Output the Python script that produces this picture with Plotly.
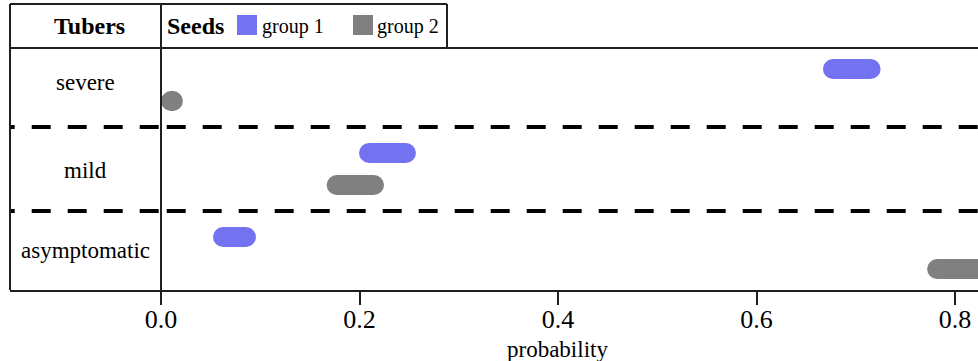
import plotly.graph_objects as go

# ---- data ----
categories = ["severe", "mild", "asymptomatic"]
group_names = ["group 1", "group 2"]
group1_low = [0.677, 0.2096, 0.0625]
group1_high = [0.715, 0.2468, 0.0856]
group2_low = [0.010, 0.177, 0.782]
group2_high = [0.012, 0.2146, 0.860]
tick_vals = [0.0, 0.2, 0.4, 0.6, 0.8]
tick_text = ["0.0", "0.2", "0.4", "0.6", "0.8"]

# ---- layout constants (pixels) ----
W, H = 978, 361
PL, PR = 10, 978          # plot area left/right
PT, PB = 48, 290          # plot area top/bottom
X0PX = 161                # pixel of x = 0
PX_PER_UNIT = 992.5
HEADER_TOP = 4
SEEDS_RIGHT = 447
LABEL_PX = {"severe": 82, "mild": 170, "asymptomatic": 250}

BLUE = "#7373F2"
GRAY = "#808080"
LINE = "#1f1f1f"
FONT = "Liberation Serif"

xr = [(PL - X0PX) / PX_PER_UNIT, (PR - X0PX) / PX_PER_UNIT]
row_pos = {c: 3 - i for i, c in enumerate(categories)}
pad = ((PB - PT) / 84 - 2) / 2
yr = [1 - pad, 3 + pad]
OFF = 0.19


def xp(px):
    return (px - PL) / (PR - PL)


def yp(py):
    return (PB - py) / (PB - PT)


fig = go.Figure()

for name, lows, highs, color, off in [
    (group_names[0], group1_low, group1_high, BLUE, OFF),
    (group_names[1], group2_low, group2_high, GRAY, -OFF),
]:
    for cat, lo, hi in zip(categories, lows, highs):
        y = row_pos[cat] + off
        fig.add_trace(go.Scatter(
            x=[lo, hi], y=[y, y], mode="lines+markers",
            line=dict(color=color, width=20),
            marker=dict(color=color, size=20, symbol="circle", line=dict(width=0)),
            name=name, showlegend=False, hoverinfo="skip",
        ))

shapes = []
# dashed separators between rows
for yv in [1.5, 2.5]:
    shapes.append(dict(type="line", xref="paper", yref="y", x0=xp(PL), x1=xp(X0PX), y0=yv, y1=yv,
                       line=dict(color="black", width=4, dash="4.7px,17px,14.3px,0px")))
    shapes.append(dict(type="line", xref="paper", yref="y", x0=xp(X0PX), x1=xp(PR), y0=yv, y1=yv,
                       line=dict(color="black", width=4, dash="0px,5.7px,19px,11.3px")))
# frame lines
frame = [
    (PL, HEADER_TOP, PL, PB),
    (PL, HEADER_TOP, SEEDS_RIGHT, HEADER_TOP),
    (SEEDS_RIGHT, HEADER_TOP, SEEDS_RIGHT, PT),
    (PL, PT, PR, PT),
    (X0PX, HEADER_TOP, X0PX, PB),
]
for x0, y0, x1, y1 in frame:
    shapes.append(dict(type="line", xref="paper", yref="paper", x0=xp(x0), x1=xp(x1),
                       y0=yp(y0), y1=yp(y1), line=dict(color=LINE, width=2)))
# legend swatches
for x0, color in [(237, BLUE), (353, GRAY)]:
    shapes.append(dict(type="rect", xref="paper", yref="paper", x0=xp(x0), x1=xp(x0 + 20),
                       y0=yp(35), y1=yp(15), fillcolor=color, line=dict(width=0)))

annotations = []
for cat in categories:
    annotations.append(dict(x=xp((PL + X0PX) / 2), y=yp(LABEL_PX[cat]), xref="paper", yref="paper",
                            text=cat, showarrow=False, xanchor="center", yanchor="middle",
                            font=dict(family=FONT, size=23, color="black")))
annotations += [
    dict(x=xp(89), y=yp(26), xref="paper", yref="paper", text="<b>Tubers</b>", showarrow=False,
         xanchor="center", yanchor="middle", font=dict(family=FONT, size=24, color="black")),
    dict(x=xp(165), y=yp(26), xref="paper", yref="paper", text="<b>Seeds</b>", showarrow=False,
         xanchor="left", yanchor="middle", font=dict(family=FONT, size=24, color="black")),
    dict(x=xp(260), y=yp(26), xref="paper", yref="paper", text=group_names[0], showarrow=False,
         xanchor="left", yanchor="middle", font=dict(family=FONT, size=20, color="black")),
    dict(x=xp(375), y=yp(26), xref="paper", yref="paper", text=group_names[1], showarrow=False,
         xanchor="left", yanchor="middle", font=dict(family=FONT, size=20, color="black")),
    dict(x=xp(557), y=yp(349), xref="paper", yref="paper", text="probability", showarrow=False,
         xanchor="center", yanchor="middle", font=dict(family=FONT, size=23, color="black")),
]

fig.update_layout(
    width=W, height=H,
    margin=dict(l=PL, r=W - PR, t=PT, b=H - PB, pad=0),
    paper_bgcolor="white", plot_bgcolor="white",
    showlegend=False,
    shapes=shapes, annotations=annotations,
    xaxis=dict(range=xr, showgrid=False, zeroline=False, showline=True, linecolor=LINE, linewidth=2,
               ticks="outside", ticklen=13, tickwidth=1.5, tickcolor=LINE,
               tickvals=tick_vals, ticktext=tick_text, ticklabelstandoff=-8,
               tickfont=dict(family=FONT, size=26, color="black"), fixedrange=True),
    yaxis=dict(range=yr, showgrid=False, zeroline=False, showline=False, showticklabels=False,
               ticks="", fixedrange=True),
)

fig.write_html("out.html", config={"displayModeBar": False},
               post_script="document.body.style.margin='0';document.body.style.padding='0';")
